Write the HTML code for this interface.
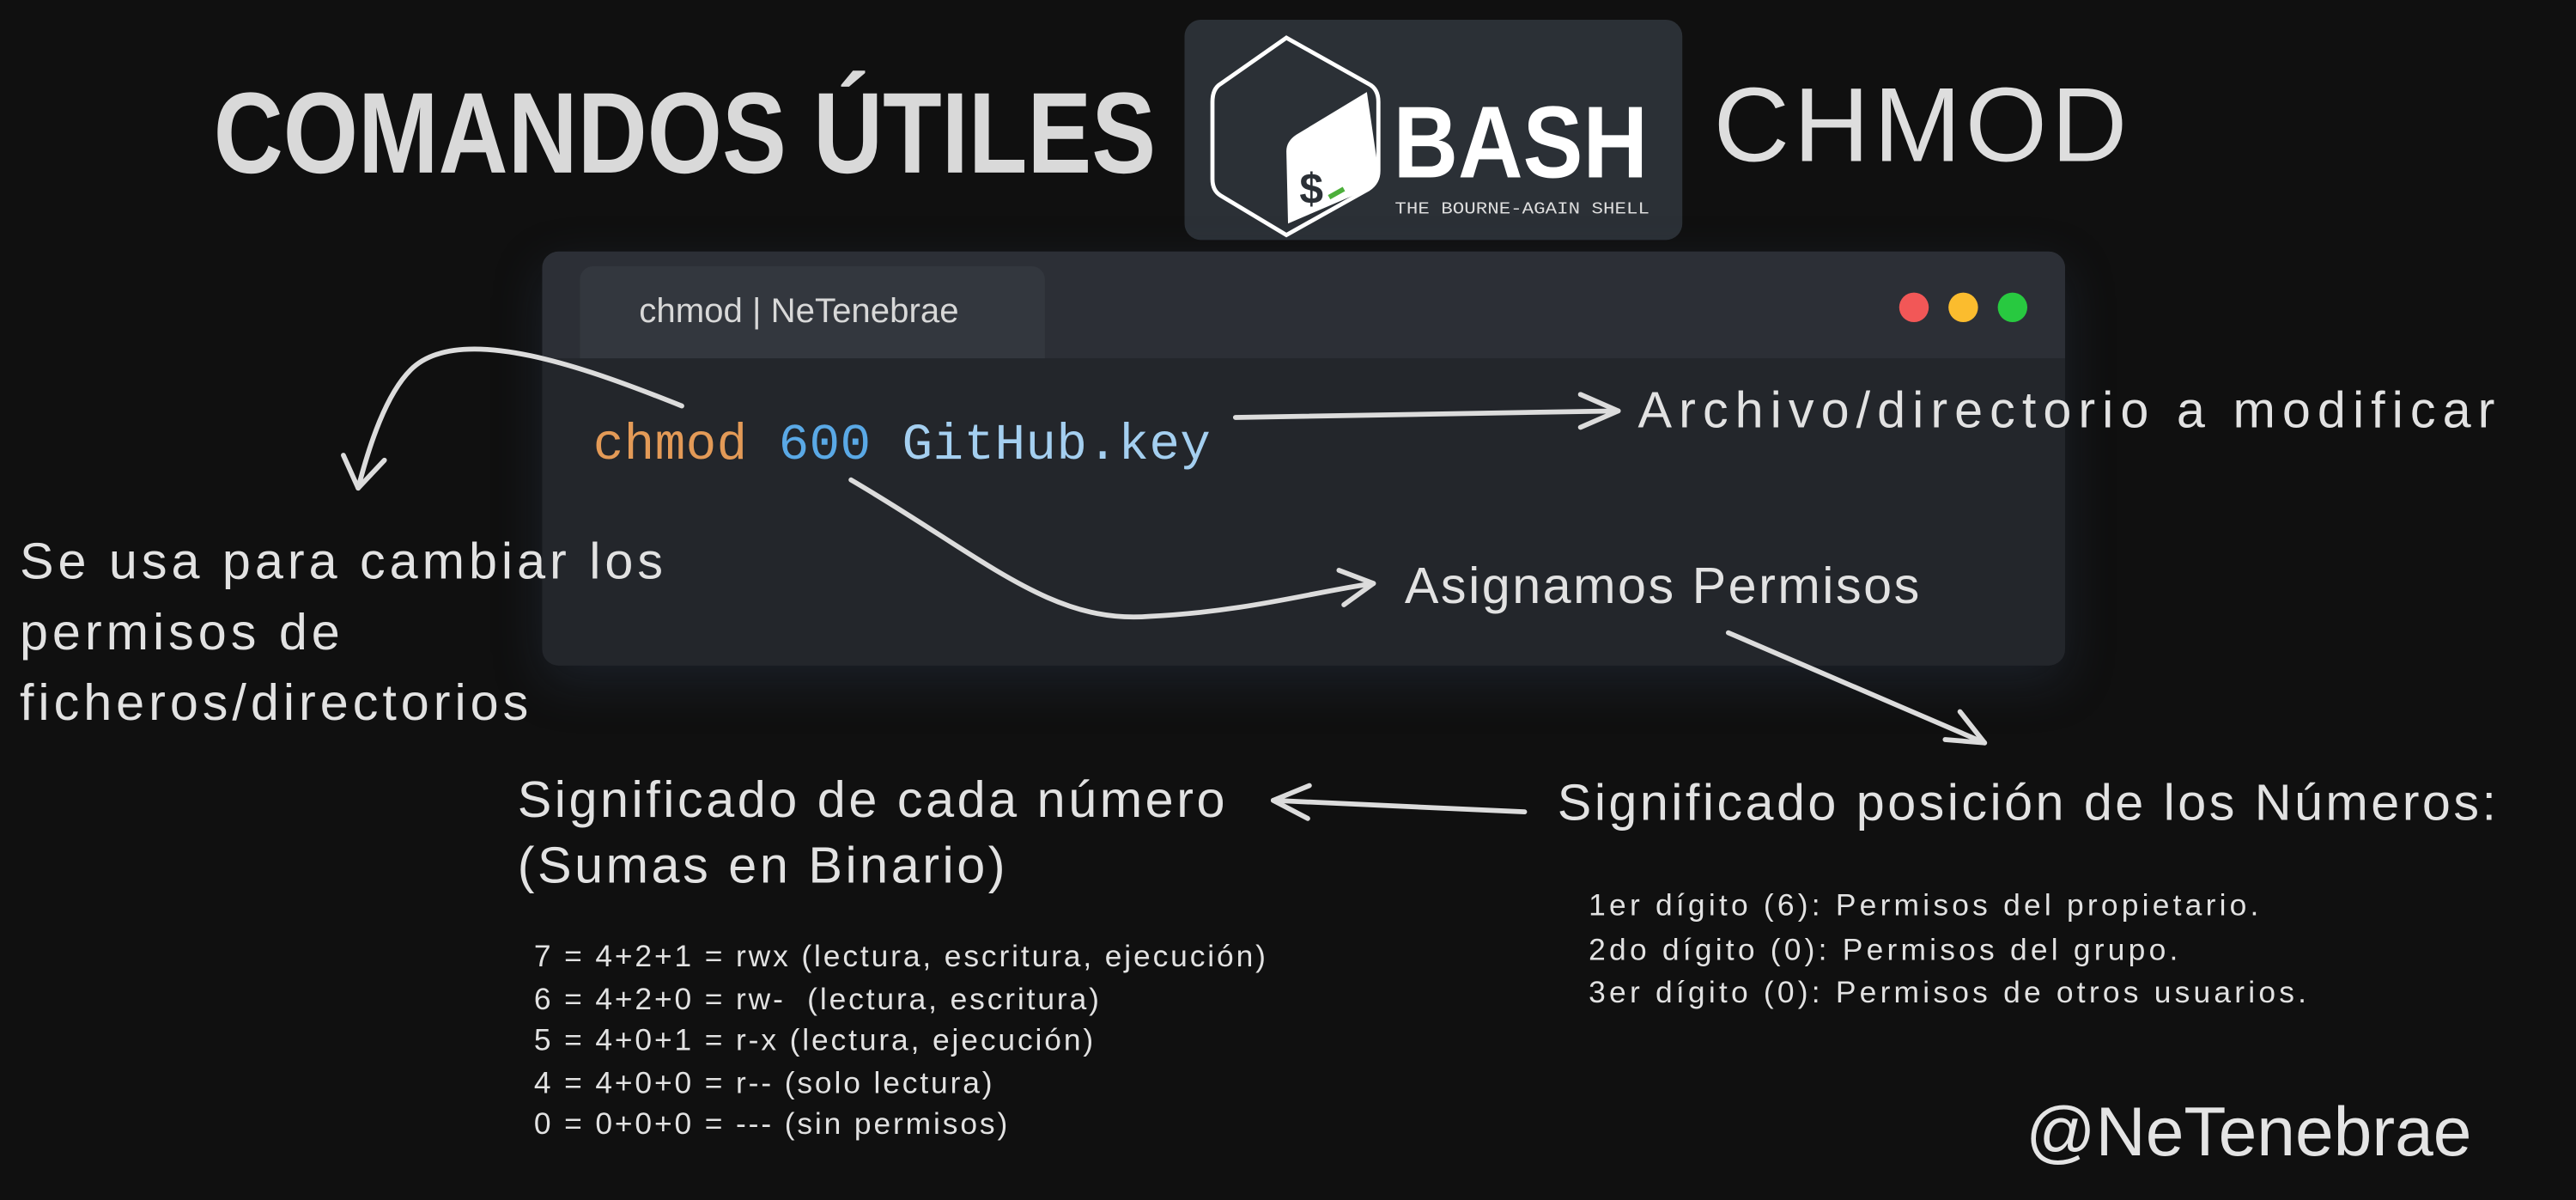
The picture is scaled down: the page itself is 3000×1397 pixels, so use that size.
<!DOCTYPE html>
<html><head><meta charset="utf-8"><style>
html,body{margin:0;padding:0;background:#101010;overflow:hidden}
#w{position:absolute;left:0;top:0;width:1568px;height:730px;transform:scale(1.9133);transform-origin:0 0;background:#101010;font-family:"Liberation Sans",sans-serif;color:#e2e2e2}
.a{position:absolute;white-space:nowrap}
.h{font-size:31px;letter-spacing:0.5px}
.s{font-size:18.5px;line-height:25.5px}
</style></head><body><div id="w">
<div class="a" style="left:130px;top:46px;font-size:70px;font-weight:bold;color:#d9d9d9;transform:scaleX(0.838);transform-origin:0 0;line-height:70px">COMANDOS ÚTILES</div>
<div class="a" style="left:721px;top:12px;width:303px;height:134px;background:#2b3036;border-radius:10px"></div>
<svg class="a" style="left:721px;top:12px" width="303" height="134">
<path d="M62 17 L112 45 Q118 48 118 56 L118 98 Q118 105 112 109 L62 137 L22 113 Q17 110 17 103 L17 56 Q17 48 22 45 Z" fill="none" stroke="#fff" stroke-width="2.5" transform="translate(0,-6)"/>
<path d="M111 50 L118 98 Q118 105 112 109 L63 130 L62 86 Q62 80 68 76 Z" fill="#fff" transform="translate(0,-6)"/>
<text x="70" y="112" font-family="Liberation Sans" font-weight="bold" font-size="26" fill="#2b3036">$</text>
<line x1="88" y1="108" x2="97" y2="103" stroke="#4caf3a" stroke-width="3"/>
<text x="127" y="96" font-family="Liberation Sans" font-weight="bold" font-size="62" fill="#fff" textLength="155" lengthAdjust="spacingAndGlyphs">BASH</text>
<text x="128" y="118" font-family="Liberation Mono" font-size="10" fill="#ddd" textLength="155" lengthAdjust="spacingAndGlyphs">THE BOURNE-AGAIN SHELL</text>
</svg>
<div class="a" style="left:1043px;top:44px;font-size:64px;color:#dedede;letter-spacing:2.5px;line-height:64px">CHMOD</div>
<div class="a" style="left:330px;top:153px;width:927px;height:252px;background:#23262b;border-radius:10px;box-shadow:0 10px 30px rgba(60,80,110,0.25);overflow:hidden">
<div style="position:absolute;left:0;top:0;width:927px;height:65px;background:#2c2f36"></div>
<div style="position:absolute;left:23px;top:9px;width:283px;height:56px;background:#33373e;border-radius:8px 8px 0 0"></div>
<div style="position:absolute;left:59px;top:25px;font-size:21px;color:#d8d8d8">chmod | NeTenebrae</div>
<div style="position:absolute;left:826px;top:25px;width:18px;height:18px;border-radius:50%;background:#f25757"></div>
<div style="position:absolute;left:856px;top:25px;width:18px;height:18px;border-radius:50%;background:#fbbc2e"></div>
<div style="position:absolute;left:886px;top:25px;width:18px;height:18px;border-radius:50%;background:#28c940"></div>
<div style="position:absolute;left:31px;top:101px;font-family:'Liberation Mono',monospace;font-size:31px;letter-spacing:0.2px"><span style="color:#e39a57">chmod</span> <span style="color:#5aa9e6">600</span> <span style="color:#a4cff0">GitHub.key</span></div>
</div>
<svg class="a" style="left:0;top:0" width="1568" height="730" fill="none" stroke="#dcdcdc" stroke-width="3" stroke-linecap="round" stroke-linejoin="round">
<path d="M415 247 C360 225 280 195 250 225 C235 240 225 270 218 297"/><path d="M209 277 L218 297 L234 280"/>
<path d="M752 254 L985 250"/><path d="M962 240 L985 250 L962 260"/>
<path d="M518 292 C600 340 640 380 700 375 C760 372 800 360 836 355"/><path d="M815 347 L836 355 L818 368"/>
<path d="M1052 385 L1208 452"/><path d="M1184 450 L1208 452 L1193 433"/>
<path d="M928 494 L775 487"/><path d="M797 478 L775 487 L796 498"/>
</svg>
<div class="a h" style="left:997px;top:232px;letter-spacing:4.2px">Archivo/directorio a modificar</div>
<div class="a h" style="left:855px;top:339px;letter-spacing:1.3px">Asignamos Permisos</div>
<div class="a h" style="left:12px;top:320px;line-height:43px;letter-spacing:2.6px">Se usa para cambiar los<br>permisos de<br>ficheros/directorios</div>
<div class="a h" style="left:315px;top:467px;line-height:40px;letter-spacing:1.85px">Significado de cada número<br>(Sumas en Binario)</div>
<div class="a h" style="left:948px;top:471px;letter-spacing:1.8px">Significado posición de los Números:</div>
<div class="a s" style="left:325px;top:569px;letter-spacing:1.5px">7 = 4+2+1 = rwx (lectura, escritura, ejecución)<br>6 = 4+2+0 = rw-&nbsp; (lectura, escritura)<br>5 = 4+0+1 = r-x (lectura, ejecución)<br>4 = 4+0+0 = r-- (solo lectura)<br>0 = 0+0+0 = --- (sin permisos)</div>
<div class="a s" style="left:967px;top:538px;line-height:26.5px;letter-spacing:2.2px">1er dígito (6): Permisos del propietario.<br>2do dígito (0): Permisos del grupo.<br>3er dígito (0): Permisos de otros usuarios.</div>
<div class="a" style="left:1233px;top:665px;font-size:42px;color:#e4e4e4">@NeTenebrae</div>
</div></body></html>
